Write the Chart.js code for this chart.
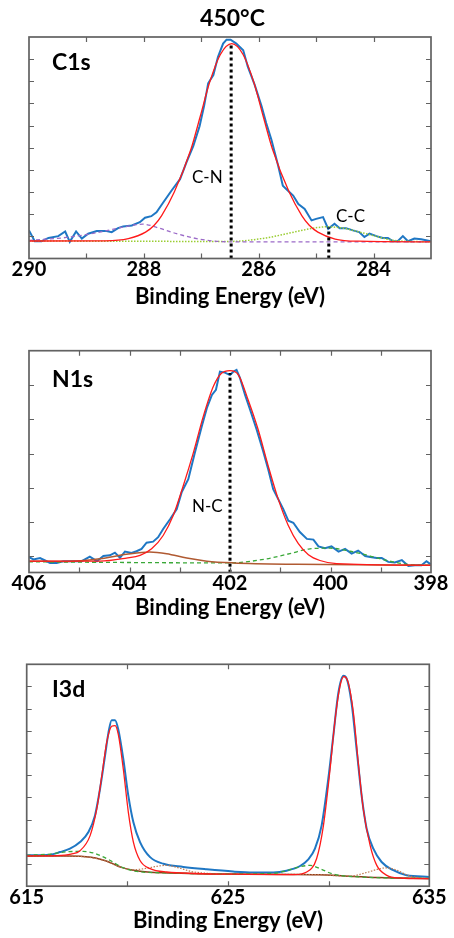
<!DOCTYPE html>
<html>
<head>
<meta charset="utf-8">
<script src="https://cdn.jsdelivr.net/npm/chart.js@4.4.1/dist/chart.umd.min.js"></script>
<style>
  html, body { margin: 0; padding: 0; background: #fff; }
  #wrap { position: relative; width: 454px; height: 938px; }
  canvas { position: absolute; left: 0; }
</style>
</head>
<body>
<div id="wrap">
  <canvas id="c1s" width="454" height="312" style="top:0"></canvas>
  <canvas id="n1s" width="454" height="312" style="top:312px"></canvas>
  <canvas id="i3d" width="454" height="314" style="top:624px"></canvas>
</div>
<script>
// ---- C1s (450 °C) : [binding energy, intensity] ----
const c1sRaw = [[290.00,1.27],[289.90,0.78],[289.78,0.78],[289.66,0.93],[289.49,1.01],[289.37,1.22],[289.29,0.75],[289.18,1.22],[289.08,0.90],[288.97,1.12],[288.82,1.24],[288.65,1.24],[288.56,1.19],[288.45,1.37],[288.36,1.45],[288.21,1.49],[288.07,1.64],[287.98,1.84],[287.87,1.91],[287.78,2.09],[287.66,2.54],[287.52,3.06],[287.37,3.58],[287.26,4.33],[287.14,5.07],[287.03,5.97],[286.95,6.90],[286.88,7.91],[286.79,8.28],[286.71,9.10],[286.62,9.70],[286.56,9.88],[286.49,9.88],[286.39,9.70],[286.27,9.40],[286.19,8.66],[286.07,7.84],[285.95,6.87],[285.87,6.12],[285.78,5.37],[285.66,4.18],[285.58,3.28],[285.49,3.06],[285.40,2.84],[285.31,2.46],[285.20,2.24],[285.08,1.72],[285.00,1.79],[284.88,1.87],[284.79,1.34],[284.68,1.57],[284.59,1.37],[284.48,1.37],[284.36,1.27],[284.25,1.19],[284.16,0.97],[284.07,1.12],[283.95,1.01],[283.84,0.93],[283.75,0.93],[283.66,0.78],[283.58,0.78],[283.49,1.01],[283.40,0.78],[283.29,0.90],[283.17,0.87],[283.00,0.78]];
const c1sFit = [[290.00,0.79],[288.67,0.80],[288.27,0.90],[287.97,1.19],[287.82,1.50],[287.69,1.94],[287.47,3.00],[287.18,4.93],[287.02,6.40],[286.86,7.91],[286.67,9.20],[286.47,9.70],[286.27,9.20],[286.08,7.91],[285.92,6.40],[285.76,4.93],[285.47,3.00],[285.25,1.94],[285.12,1.50],[284.97,1.19],[284.67,0.88],[284.27,0.78],[283.00,0.75]];
const c1sCO = [[290.00,0.82],[289.35,0.95],[288.77,1.19],[288.30,1.45],[288.02,1.55],[287.72,1.36],[287.43,1.12],[287.14,0.93],[286.80,0.79],[286.40,0.75],[283.00,0.75]];
const c1sCC = [[290.00,0.79],[286.50,0.77],[285.87,0.93],[285.46,1.15],[285.11,1.34],[284.82,1.43],[284.53,1.37],[284.24,1.19],[283.95,1.00],[283.66,0.82],[283.00,0.75]];
const c1sPeaks = [286.48, 284.78];
const c1sPeakTops = [9.70, 1.40];
const c1sXLabels = [290, 288, 286, 284];
const c1sXTicks = [289, 288, 287, 286, 285, 284];
const c1sYTicks = [1, 2, 3, 4, 5, 6, 7, 8, 9];

// ---- N1s ----
const n1sRaw = [[406.00,0.98],[405.91,0.91],[405.78,0.95],[405.68,0.88],[405.58,0.81],[405.45,0.81],[405.32,0.86],[405.12,0.86],[404.95,0.86],[404.79,0.99],[404.65,0.86],[404.52,1.01],[404.39,1.03],[404.29,1.11],[404.19,0.96],[404.09,1.14],[403.96,1.10],[403.86,1.15],[403.76,1.22],[403.66,1.40],[403.53,1.43],[403.43,1.56],[403.33,1.80],[403.19,2.09],[403.06,2.38],[402.96,2.88],[402.83,3.25],[402.70,4.02],[402.56,4.80],[402.46,5.33],[402.36,5.71],[402.28,5.86],[402.20,6.39],[402.10,6.36],[402.00,6.29],[401.93,6.39],[401.87,6.44],[401.80,6.20],[401.70,5.71],[401.60,5.28],[401.47,4.70],[401.34,4.07],[401.24,3.54],[401.14,2.96],[401.04,2.67],[400.94,2.38],[400.84,2.04],[400.74,1.98],[400.61,1.71],[400.47,1.51],[400.34,1.49],[400.24,1.29],[400.11,1.24],[399.98,1.29],[399.84,1.14],[399.71,1.22],[399.58,1.08],[399.45,1.17],[399.31,1.01],[399.21,0.98],[399.08,0.95],[398.98,0.95],[398.85,0.84],[398.72,0.82],[398.58,0.89],[398.45,0.72],[398.32,0.74],[398.19,0.74],[398.09,0.86],[398.00,0.76]];
const n1sFit = [[406.00,0.86],[404.59,0.86],[404.06,0.95],[403.79,1.03],[403.56,1.22],[403.33,1.61],[403.13,2.19],[402.93,3.06],[402.73,4.02],[402.53,5.09],[402.33,5.96],[402.17,6.34],[402.00,6.42],[401.83,6.29],[401.64,5.57],[401.44,4.70],[401.24,3.64],[401.04,2.67],[400.84,1.90],[400.64,1.37],[400.44,1.05],[400.21,0.88],[399.88,0.79],[398.00,0.74]];
const n1sHigh = [[406.00,0.86],[405.25,0.85],[404.59,0.93],[404.06,1.06],[403.60,1.13],[403.26,1.08],[402.86,0.95],[402.46,0.86],[401.93,0.81],[400.68,0.77],[398.00,0.74]];
const n1sLow = [[406.00,0.84],[402.00,0.81],[401.27,0.93],[400.81,1.08],[400.41,1.22],[400.01,1.24],[399.61,1.15],[399.21,1.01],[398.82,0.86],[398.42,0.76],[398.00,0.74]];
const n1sPeaks = [402.0];
const n1sPeakTops = [6.35];
const n1sXLabels = [406, 404, 402, 400, 398];
const n1sXTicks = [405, 404, 403, 402, 401, 400, 399];
const n1sYTicks = [1, 2, 3, 4, 5, 6];

// ---- I3d ----
const i3dRaw = [[615.00,1.39],[616.16,1.42],[616.66,1.54],[617.15,1.69],[617.65,1.99],[618.06,2.43],[618.39,3.18],[618.64,4.37],[618.89,5.87],[619.06,6.91],[619.22,7.48],[619.39,7.48],[619.55,7.06],[619.80,5.72],[620.05,4.07],[620.30,2.88],[620.63,1.99],[621.13,1.31],[621.79,1.01],[622.78,0.87],[623.94,0.76],[625.26,0.66],[626.26,0.62],[627.25,0.62],[627.91,0.70],[628.58,0.91],[628.99,1.21],[629.32,1.69],[629.65,2.73],[629.98,4.82],[630.23,6.76],[630.48,8.70],[630.73,9.48],[630.89,9.37],[631.14,8.25],[631.39,6.16],[631.64,4.07],[631.89,2.58],[632.22,1.69],[632.63,1.09],[633.21,0.72],[633.87,0.49],[635.00,0.42]];
const i3dFit = [[615.00,1.36],[616.50,1.38],[617.20,1.45],[617.65,1.60],[618.15,2.28],[618.48,3.48],[618.73,4.97],[618.97,6.46],[619.22,7.21],[619.39,7.24],[619.55,6.84],[619.80,5.27],[620.05,3.33],[620.30,1.99],[620.63,1.16],[621.13,0.79],[621.95,0.64],[625.26,0.54],[628.25,0.52],[628.91,0.64],[629.40,1.24],[629.74,2.73],[630.07,5.27],[630.32,7.51],[630.56,9.00],[630.76,9.45],[630.98,9.15],[631.23,7.81],[631.47,5.57],[631.72,3.48],[632.06,1.84],[632.39,0.94],[632.89,0.49],[633.54,0.37],[635.00,0.34]];
const i3dSat = [[615.00,1.39],[616.20,1.45],[617.00,1.55],[617.80,1.57],[618.30,1.50],[618.70,1.36],[619.15,1.16],[619.60,0.92],[620.00,0.76],[620.60,0.65],[622.00,0.60],[625.00,0.55],[627.30,0.58],[627.90,0.70],[628.50,0.86],[629.08,0.94],[629.60,0.78],[630.20,0.55],[631.50,0.42],[635.00,0.35]];
const i3dBack = [[615.00,1.36],[617.00,1.36],[618.20,1.30],[618.70,1.20],[619.14,1.07],[619.70,0.85],[620.30,0.72],[621.00,0.64],[622.00,0.60],[625.00,0.55],[629.50,0.52],[631.00,0.45],[632.50,0.39],[635.00,0.34]];
const i3dLoss = [[615.00,1.36],[617.00,1.36],[618.70,1.20],[619.70,0.85],[620.30,0.74],[620.90,0.80],[621.50,0.90],[621.95,0.94],[622.50,0.84],[623.20,0.66],[624.00,0.58],[625.00,0.55],[629.50,0.52],[631.00,0.45],[631.90,0.62],[632.50,0.78],[632.90,0.83],[633.40,0.72],[633.90,0.50],[634.50,0.38],[635.00,0.35]];
const i3dXLabels = [615, 625, 635];
const i3dXTicks = [620, 625, 630];
const i3dYTicks = [1, 2, 3, 4, 5, 6, 7, 8, 9];

const FONT = 'Lato, "Open Sans", sans-serif';
const pts = arr => arr.map(p => ({ x: p[0], y: p[1] }));

function raw(arr, smooth) {
    return { data: pts(arr), borderColor: '#1f77c4', borderWidth: 2, tension: smooth ? 0.4 : 0,
        cubicInterpolationMode: smooth ? 'monotone' : 'default', pointRadius: 0 };
}
function fit(arr, color, width, dash) {
    return { data: pts(arr), borderColor: color, borderWidth: width, borderDash: dash || [],
        tension: 0.4, cubicInterpolationMode: 'monotone', pointRadius: 0 };
}
function marks(xs, tops) {
    return xs.map((x, i) => ({ data: [{ x: x, y: 0 }, { x: x, y: tops[i] }], borderColor: '#000',
        borderWidth: 3, borderDash: [3, 3], pointRadius: 0 }));
}

// frame, inward tick marks and in-plot text
const framePlugin = {
    id: 'frame',
    afterDatasetsDraw(chart, args, opts) {
        const { ctx, chartArea: a, scales: { x, y } } = chart;
        ctx.save();
        ctx.strokeStyle = '#626262';
        ctx.lineWidth = 1.2;
        ctx.beginPath();
        (opts.xTicks || []).forEach(v => {
            const px = Math.round(x.getPixelForValue(v)) + 0.5;
            ctx.moveTo(px, a.bottom); ctx.lineTo(px, a.bottom - 5);
            ctx.moveTo(px, a.top); ctx.lineTo(px, a.top + 5);
        });
        (opts.yTicks || []).forEach(v => {
            const py = Math.round(y.getPixelForValue(v)) + 0.5;
            ctx.moveTo(a.left, py); ctx.lineTo(a.left + 5, py);
            ctx.moveTo(a.right, py); ctx.lineTo(a.right - 5, py);
        });
        ctx.stroke();
        ctx.lineWidth = 1.7;
        ctx.strokeRect(a.left, a.top, a.right - a.left, a.bottom - a.top);
        (opts.texts || []).forEach(t => {
            ctx.font = t.font;
            ctx.fillStyle = '#000';
            ctx.textAlign = t.align || 'left';
            ctx.textBaseline = 'middle';
            ctx.fillText(t.text, t.x, t.y);
        });
        ctx.restore();
    }
};

function panel(id, o) {
    return new Chart(document.getElementById(id), {
        type: 'line',
        data: { datasets: o.datasets },
        plugins: [framePlugin],
        options: {
            responsive: false,
            animation: false,
            layout: { padding: o.padding },
            plugins: {
                legend: { display: false },
                tooltip: { enabled: false },
                frame: { xTicks: o.xTicks, yTicks: o.yTicks, texts: o.texts }
            },
            scales: {
                x: {
                    type: 'linear', min: o.xMin, max: o.xMax, reverse: o.reverse,
                    grid: { display: false, drawTicks: false },
                    border: { display: false },
                    afterBuildTicks: s => { s.ticks = o.xLabels.map(v => ({ value: v })); },
                    ticks: { autoSkip: false, maxRotation: 0, padding: 1.5, color: '#000',
                        font: { family: FONT, weight: 'bold', size: 20, lineHeight: 1 } },
                    title: { display: true, text: 'Binding Energy (eV)', color: '#000',
                        padding: { top: o.titleGap, bottom: 0 },
                        font: { family: FONT, weight: 'bold', size: 22, lineHeight: 1 } }
                },
                y: { display: false, min: o.yMin, max: o.yMax }
            }
        }
    });
}

const bold = s => 'bold ' + s + 'px ' + FONT;
const plain = s => s + 'px ' + FONT;

panel('c1s', {
    xMin: 283, xMax: 290, reverse: true, yMin: 0, yMax: 10,
    padding: { left: 29, right: 23, top: 37, bottom: 4.5 }, titleGap: 4,
    xLabels: c1sXLabels, xTicks: c1sXTicks, yTicks: c1sYTicks,
    datasets: [
        ...marks(c1sPeaks, c1sPeakTops),
        fit(c1sFit, '#ff1a1a', 1.3),
        fit(c1sCO, '#9b6ac8', 1.3, [4, 3]),
        fit(c1sCC, '#9acd32', 1.5, [1.5, 1.5]),
        raw(c1sRaw, false)
    ],
    texts: [
        { text: '450°C', x: 232.5, y: 19, font: bold(23), align: 'center' },
        { text: 'C1s', x: 52, y: 63, font: bold(23) },
        { text: 'C-N', x: 192, y: 178, font: plain(17) },
        { text: 'C-C', x: 336, y: 217, font: plain(17) }
    ]
});

panel('n1s', {
    xMin: 398, xMax: 406, reverse: true, yMin: 0.53, yMax: 7,
    padding: { left: 29, right: 23, top: 38.7, bottom: 5.5 }, titleGap: 1,
    xLabels: n1sXLabels, xTicks: n1sXTicks, yTicks: n1sYTicks,
    datasets: [
        ...marks(n1sPeaks, n1sPeakTops),
        fit(n1sFit, '#ff1a1a', 1.3),
        fit(n1sHigh, '#b05a32', 1.5),
        fit(n1sLow, '#3aa838', 1.3, [4, 3]),
        raw(n1sRaw, false)
    ],
    texts: [
        { text: 'N1s', x: 52, y: 68, font: bold(23) },
        { text: 'N-C', x: 192, y: 195, font: plain(17) }
    ]
});

panel('i3d', {
    xMin: 615, xMax: 635, reverse: false, yMin: 0, yMax: 10,
    padding: { left: 26.7, right: 24.7, top: 40.3, bottom: 5.8 }, titleGap: 1,
    xLabels: i3dXLabels, xTicks: i3dXTicks, yTicks: i3dYTicks,
    datasets: [
        fit(i3dFit, '#ff1a1a', 1.3),
        fit(i3dSat, '#3aa838', 1.3, [4, 3]),
        fit(i3dLoss, '#c07a50', 1.2, [1.5, 1.5]),
        fit(i3dBack, '#8b3a1a', 1.5),
        raw(i3dRaw, true)
    ],
    texts: [
        { text: 'I3d', x: 52, y: 66, font: bold(23) }
    ]
});
</script>
</body>
</html>
